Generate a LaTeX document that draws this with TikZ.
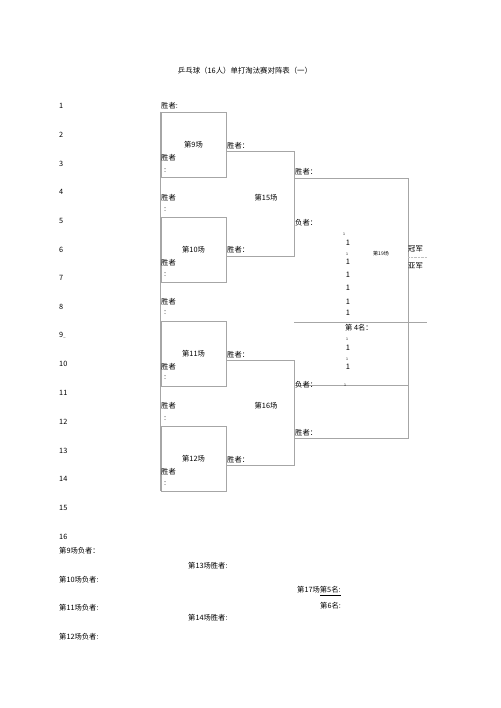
\documentclass[tikz,border=0pt]{standalone}
\usepackage{fontspec}
\setmainfont{Noto Sans CJK SC}
\begin{document}
\begin{tikzpicture}[x=1pt,y=-1pt,
  ln/.style={draw=gray!70, line width=0.7pt},
  txt/.style={anchor=west, inner sep=0pt, font=\fontsize{7.3}{8}\selectfont},
  ctr/.style={inner sep=0pt, font=\fontsize{7.3}{8}\selectfont},
  tiny1/.style={inner sep=0pt, font=\fontsize{3.5}{4}\selectfont},
  one/.style={inner sep=0pt, font=\fontsize{7.5}{8}\selectfont},
  matchbox/.style={ln, rectangle, minimum width=65pt, minimum height=65pt, inner sep=0pt, font=\fontsize{7.3}{8}\selectfont}]
\useasboundingbox (0,0) rectangle (500,708);
\fill[white] (0,0) rectangle (500,708);

% title
\node[ctr, font=\fontsize{7.4}{8}\selectfont] (title) at (245,71) {乒乓球（16人）单打淘汰赛对阵表（一）};

% player numbers
\foreach \n in {1,...,16}{
  \ifnum\n=9
    \node[txt] (p\n) at (59,{106+(\n-1)*28.7}) {9{\fontsize{4}{4}\selectfont\_}};
  \else
    \node[txt] (p\n) at (59,{106+(\n-1)*28.7}) {\n};
  \fi
}

% first round boxes
\node[matchbox] (m9)  at (193.5,144.5) {第9场};
\node[matchbox] (m10) at (193.5,249.5) {第10场};
\node[matchbox] (m11) at (193.5,353.5) {第11场};
\node[matchbox] (m12) at (193.5,458.5) {第12场};
\draw[ln] (m9.north west) -- (m12.south west);

% winner labels on the left line
\node[txt] (w0) at (161,106) {胜者:};
\foreach \y/\c [count=\i] in {158/171,198/210,263/275,302/313,367/378,406/419,472/484}{
  \node[txt] (wl\i) at (161,\y) {胜者};
  \node[txt] (wc\i) at (164,\c) {:};
}

% match 15 and 16 brackets
\coordinate (q15a) at (294,151);
\coordinate (q15b) at (294,256);
\coordinate (q16a) at (294,360);
\coordinate (q16b) at (294,465);
\draw[ln] (m9.east |- q15a) -- (q15a) -- (q15b) -- (m10.east |- q15b);
\draw[ln] (m11.east |- q16a) -- (q16a) -- (q16b) -- (m12.east |- q16b);
\node[txt] (w15a) at (227,146) {胜者：};
\node[txt] (w15b) at (227,250) {胜者：};
\node[txt] (w16a) at (227,355) {胜者：};
\node[txt] (w16b) at (227,460) {胜者：};
\node[ctr] (l15) at (266,198) {第15场};
\node[ctr] (l16) at (266,406) {第16场};

% final bracket
\coordinate (f1) at (294,178);
\coordinate (f2) at (408,178);
\coordinate (f3) at (408,438);
\coordinate (f4) at (294,438);
\coordinate (f5) at (294,385);
\coordinate (f6) at (408,385);
\coordinate (f7) at (294,322);
\coordinate (f8) at (427,322);
\coordinate (d1) at (408,257);
\coordinate (d2) at (427,257);
\draw[ln] (f1) -- (f2) -- (f3) -- (f4);
\draw[ln] (f5) -- (f6);
\draw[ln] (f7) -- (f8);
\draw[gray!50, line width=0.4pt, densely dotted] (d1) -- (d2);

\node[txt] (fw1) at (295,172) {胜者：};
\node[txt] (fl1) at (295,223) {负者：};
\node[inner sep=0pt, font=\fontsize{5}{6}\selectfont] (l19) at (381,254) {第19场};
\node[txt] (champ) at (408,249) {冠军};
\node[txt] (runner) at (408,266) {亚军};
\node[txt] (fourth) at (345,328) {第 4名：};
\node[txt] (fl2) at (295,385) {负者：};
\node[txt] (fw2) at (295,433) {胜者：};

% stray digit column
\foreach \y [count=\i] in {243,262,275,288,302,313,348,367}{
  \node[one] (o\i) at (348,\y) {1};
}
\foreach \x/\y [count=\i] in {344/234,347/254,347/339,347/359,345/385}{
  \node[tiny1] (t\i) at (\x,\y) {1};
}

% bottom lists
\node[txt] (b9)  at (59,551) {第9场负者：};
\node[txt] (b10) at (59,580) {第10场负者:};
\node[txt] (b11) at (59,608) {第11场负者:};
\node[txt] (b12) at (59,637) {第12场负者:};
\node[txt] (b13) at (188,566) {第13场胜者:};
\node[txt] (b14) at (188,618) {第14场胜者:};
\node[txt] (b17) at (297,591) {第17场\underline{第5名:}};
\node[txt] (b6)  at (320,606) {第6名:};
\end{tikzpicture}
\end{document}
